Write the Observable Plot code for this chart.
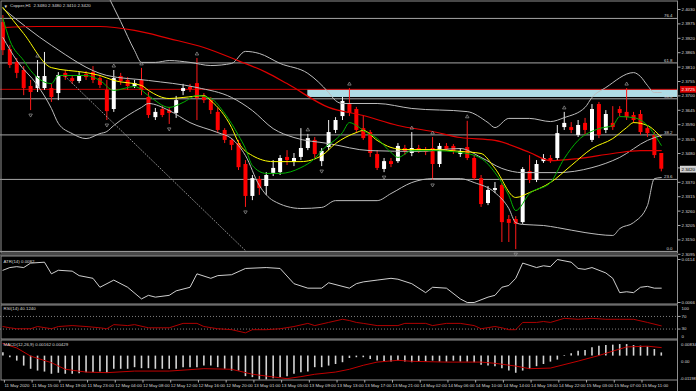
<!DOCTYPE html>
<html><head><meta charset="utf-8">
<script src="https://cdn.jsdelivr.net/npm/d3@7"></script>
<script src="https://cdn.jsdelivr.net/npm/@observablehq/plot@0.6"></script>
<style>
html,body{margin:0;padding:0;background:#000;}
#chart{width:696px;height:391px;position:relative;overflow:hidden;background:#000}
#chart svg{display:block}
</style></head><body><div id="chart"></div>
<script>
// ---------- DATA ----------
const title = "Copper,H1  2.3480 2.3480 2.3410 2.3420";
const open = [2.3980,2.3877,2.3828,2.3797,2.3736,2.3728,2.3728,2.3728,2.3709,2.3786,
2.3766,2.3755,2.3782,2.3789,2.3766,2.3721,2.3648,2.3774,2.3759,2.3736,
2.3759,2.3694,2.3617,2.3648,2.3644,2.3633,2.3717,2.3732,2.3747,2.3698,
2.3682,2.3637,2.3568,2.3530,2.3518,2.3438,2.3316,2.3381,2.3354,2.3404,
2.3407,2.3465,2.3446,2.3465,2.3499,2.3530,2.3449,2.3503,2.3568,2.3621,
2.3667,2.3648,2.3575,2.3560,2.3476,2.3419,2.3449,2.3449,2.3499,2.3480,
2.3499,2.3491,2.3499,2.3438,2.3507,2.3507,2.3476,2.3503,2.3461,2.3384,
2.3289,2.3339,2.3358,2.3228,2.3228,2.3216,2.3411,2.3377,2.3449,2.3461,
2.3461,2.3579,2.3579,2.3549,2.3595,2.3530,2.3667,2.3568,2.3595,2.3648,
2.3637,2.3625,2.3629,2.3575,2.3549,2.3480];
const high = [2.4007,2.3893,2.3843,2.3812,2.3759,2.3835,2.3866,2.3744,2.3789,2.3797,
2.3778,2.3789,2.3793,2.3812,2.3778,2.3759,2.3797,2.3786,2.3770,2.3759,
2.3805,2.3713,2.3652,2.3663,2.3656,2.3698,2.3744,2.3744,2.3843,2.3709,
2.3694,2.3652,2.3575,2.3537,2.3530,2.3453,2.3396,2.3392,2.3407,2.3453,
2.3472,2.3491,2.3480,2.3575,2.3553,2.3541,2.3499,2.3606,2.3617,2.3694,
2.3728,2.3656,2.3625,2.3568,2.3491,2.3461,2.3461,2.3518,2.3511,2.3560,
2.3511,2.3503,2.3541,2.3518,2.3518,2.3514,2.3499,2.3603,2.3472,2.3396,
2.3354,2.3369,2.3365,2.3243,2.3239,2.3426,2.3472,2.3453,2.3476,2.3472,
2.3587,2.3637,2.3598,2.3606,2.3614,2.3667,2.3675,2.3644,2.3659,2.3659,
2.3728,2.3637,2.3644,2.3587,2.3560,2.3480];
const low = [2.3854,2.3805,2.3766,2.3701,2.3644,2.3713,2.3721,2.3675,2.3682,2.3759,
2.3744,2.3747,2.3759,2.3747,2.3728,2.3606,2.3637,2.3740,2.3721,2.3728,
2.3701,2.3614,2.3606,2.3617,2.3591,2.3614,2.3701,2.3713,2.3606,2.3671,
2.3629,2.3556,2.3518,2.3491,2.3415,2.3274,2.3300,2.3320,2.3320,2.3392,
2.3396,2.3434,2.3430,2.3453,2.3491,2.3461,2.3430,2.3491,2.3556,2.3606,
2.3621,2.3556,2.3530,2.3465,2.3415,2.3407,2.3426,2.3442,2.3472,2.3468,
2.3480,2.3472,2.3377,2.3426,2.3488,2.3476,2.3465,2.3453,2.3377,2.3274,
2.3281,2.3327,2.3140,2.3140,2.3113,2.3209,2.3365,2.3369,2.3442,2.3442,
2.3453,2.3568,2.3556,2.3541,2.3549,2.3522,2.3537,2.3556,2.3568,2.3621,
2.3606,2.3595,2.3549,2.3541,2.3461,2.3410];
const close = [2.3873,2.3816,2.3786,2.3728,2.3713,2.3774,2.3774,2.3694,2.3778,2.3770,
2.3755,2.3778,2.3770,2.3759,2.3740,2.3640,2.3766,2.3755,2.3736,2.3747,
2.3721,2.3625,2.3637,2.3625,2.3633,2.3682,2.3728,2.3724,2.3690,2.3682,
2.3644,2.3568,2.3530,2.3511,2.3426,2.3316,2.3384,2.3346,2.3396,2.3423,
2.3461,2.3453,2.3461,2.3499,2.3537,2.3476,2.3488,2.3560,2.3606,2.3679,
2.3633,2.3568,2.3537,2.3480,2.3423,2.3449,2.3438,2.3507,2.3488,2.3499,
2.3488,2.3484,2.3438,2.3507,2.3495,2.3488,2.3488,2.3461,2.3384,2.3285,
2.3339,2.3346,2.3216,2.3213,2.3209,2.3419,2.3377,2.3438,2.3461,2.3449,
2.3556,2.3595,2.3568,2.3587,2.3568,2.3648,2.3549,2.3629,2.3579,2.3633,
2.3617,2.3606,2.3560,2.3556,2.3472,2.3420];

// Bollinger bands [bar, price]
const upperBand = [[13,2.4202],[15,2.4091],[17,2.3984],[19,2.3873],[20,2.3828],[22,2.3828],[24,2.3835],[27,2.3828],[30,2.3816],[33,2.3824],[35,2.3870],[37,2.3862],[40,2.3824],[44,2.3786],[47,2.3713],[48,2.3682],[49,2.3671],[54,2.3671],[59,2.3652],[67,2.3640],[70,2.3598],[71,2.3579],[73,2.3614],[76,2.3614],[79,2.3602],[81,2.3617],[84,2.3656],[85,2.3694],[87,2.3732],[91,2.3789],[92,2.3774],[93,2.3740],[94,2.3713],[95,2.3713]];
const middleBand = [[0,2.4034],[7,2.3893],[15,2.3778],[21,2.3759],[28,2.3732],[33,2.3694],[36,2.3644],[39,2.3575],[42,2.3541],[47,2.3518],[53,2.3491],[60,2.3488],[66,2.3499],[69,2.3465],[72,2.3423],[75,2.3407],[80,2.3407],[85,2.3426],[89,2.3465],[93,2.3530],[95,2.3549]];
const lowerBand = [[0,2.3923],[2,2.3835],[5,2.3740],[7,2.3652],[8,2.3595],[10,2.3556],[12,2.3537],[14,2.3556],[15,2.3564],[16,2.3587],[18,2.3625],[20,2.3656],[21,2.3671],[24,2.3644],[27,2.3598],[31,2.3560],[33,2.3537],[35,2.3472],[37,2.3358],[39,2.3300],[43,2.3270],[46,2.3274],[48,2.3300],[54,2.3300],[56,2.3327],[59,2.3369],[62,2.3384],[66,2.3384],[68,2.3369],[71,2.3331],[73,2.3270],[74,2.3216],[75,2.3209],[78,2.3205],[80,2.3197],[84,2.3178],[88,2.3167],[89,2.3193],[91,2.3216],[93,2.3281],[94,2.3384],[95,2.3388]];
// Moving averages [bar, price]
const slowMA = [[0,2.3961],[5,2.3965],[14,2.3965],[19,2.3950],[24,2.3919],[29,2.3885],[34,2.3834],[38,2.3790],[41,2.3747],[47,2.3656],[52,2.3625],[57,2.3587],[62,2.3564],[66,2.3541],[71,2.3530],[76,2.3484],[79,2.3453],[83,2.3461],[88,2.3480],[92,2.3491],[95,2.3491]];
const yellowMA = [[0,2.4038],[3,2.3938],[7,2.3808],[12,2.3789],[14,2.3778],[16,2.3759],[20,2.3740],[21,2.3721],[24,2.3690],[26,2.3694],[29,2.3701],[30,2.3682],[33,2.3579],[34,2.3522],[36,2.3472],[39,2.3449],[43,2.3449],[46,2.3472],[48,2.3518],[51,2.3560],[52,2.3568],[54,2.3530],[56,2.3503],[58,2.3495],[62,2.3495],[66,2.3488],[69,2.3480],[71,2.3423],[74,2.3312],[76,2.3331],[79,2.3369],[82,2.3434],[85,2.3499],[88,2.3537],[90,2.3579],[91,2.3598],[93,2.3587],[95,2.3541]];
const greenMA = [[0,2.3996],[1,2.3912],[3,2.3835],[4,2.3797],[7,2.3747],[8,2.3778],[12,2.3778],[14,2.3759],[16,2.3721],[19,2.3736],[21,2.3701],[24,2.3656],[26,2.3675],[28,2.3701],[30,2.3690],[32,2.3633],[34,2.3549],[35,2.3499],[36,2.3434],[38,2.3404],[40,2.3404],[43,2.3426],[45,2.3461],[46,2.3491],[49,2.3560],[50,2.3598],[51,2.3587],[52,2.3568],[54,2.3537],[56,2.3484],[57,2.3465],[59,2.3491],[62,2.3491],[66,2.3484],[69,2.3461],[71,2.3407],[73,2.3320],[74,2.3262],[76,2.3327],[79,2.3369],[81,2.3461],[83,2.3530],[86,2.3575],[88,2.3587],[89,2.3621],[91,2.3617],[93,2.3587],[95,2.3511]];
// Fractals (bar indices)
const upFractals = [5,16,20,28,44,50,59,62,67,81,90];
const downFractals = [4,15,24,35,46,55,62,74];
// Objects
const trendLine = [[9,2.3774],[35,2.3109]];
const fibLabels = ["0.0","23.6","38.2","50.0","61.8","76.4"];
const fibPrices = [2.3106,2.3381,2.3551,2.3689,2.3826,2.3996];
const redLevel = 2.3725;
const bidPrice = 2.3420;
const zone = {start: 44, end: 140, lo: 2.3694, hi: 2.3724};
const priceTicks = [2.4030,2.3975,2.3920,2.3865,2.3810,2.3755,2.3700,2.3645,2.3590,2.3535,2.3480,2.3425,2.3370,2.3315,2.3260,2.3205,2.3150,2.3095];
// ATR
const atrLabel = "ATR(14) 0.0082";
const atrTicks = [0.0114, 0.0066];
const atr = [[0,0.0102],[1,0.0105],[2,0.0106],[3,0.0105],[4,0.0110],[6,0.0111],[7,0.0098],[8,0.0102],[10,0.0101],[11,0.0096],[13,0.0093],[14,0.0083],[16,0.0091],[18,0.0083],[20,0.0070],[21,0.0074],[22,0.0072],[24,0.0074],[25,0.0079],[27,0.0083],[28,0.0098],[30,0.0093],[31,0.0096],[33,0.0097],[35,0.0104],[38,0.0105],[40,0.0104],[42,0.0087],[44,0.0082],[46,0.0082],[47,0.0088],[50,0.0082],[51,0.0087],[52,0.0089],[54,0.0091],[56,0.0093],[57,0.0092],[59,0.0087],[61,0.0077],[62,0.0083],[64,0.0082],[66,0.0070],[67,0.0066],[68,0.0066],[70,0.0072],[71,0.0074],[72,0.0083],[73,0.0085],[74,0.0093],[75,0.0110],[77,0.0105],[78,0.0107],[79,0.0106],[80,0.0114],[82,0.0111],[83,0.0104],[84,0.0103],[85,0.0105],[87,0.0099],[88,0.0093],[89,0.0077],[90,0.0078],[91,0.0077],[92,0.0083],[93,0.0084],[94,0.0082],[95,0.0082]];
// RSI
const rsiLabel = "RSI(14) 40.1240";
const rsiTicks = [100, 70, 30, 0];
const rsiLevels = [70, 30];
const rsi = [[0,38],[1,34],[2,31],[4,31],[5,38],[7,31],[8,38],[10,41],[12,38],[14,34],[15,31],[16,44],[18,41],[19,44],[21,34],[23,34],[24,34],[26,48],[28,48],[29,38],[31,31],[33,28],[35,18],[36,28],[38,28],[40,31],[42,38],[44,48],[45,41],[47,51],[49,61],[50,57],[51,51],[52,48],[54,41],[57,41],[58,48],[61,48],[62,41],[64,48],[66,48],[68,41],[69,31],[71,38],[72,34],[73,28],[74,28],[75,51],[77,51],[78,54],[79,51],[81,64],[83,61],[85,64],[87,61],[89,61],[91,61],[93,51],[95,40.1]];
// MACD
const macdLabel = "MACD(12,26,9) 0.00162 0.00429";
const macdTicksTop = [0.00834, 0];
const macdTicksBottom = [-0.01198];
const macdMain = [0.0017,-0.0008,-0.0025,-0.0050,-0.0066,-0.0075,-0.0080,-0.0091,-0.0086,-0.0091,
-0.0091,-0.0088,-0.0083,-0.0083,-0.0080,-0.0086,-0.0066,-0.0066,-0.0066,-0.0058,
-0.0063,-0.0063,-0.0066,-0.0066,-0.0066,-0.0066,-0.0058,-0.0058,-0.0058,-0.0050,
-0.0050,-0.0058,-0.0066,-0.0075,-0.0075,-0.0103,-0.0108,-0.0120,-0.0120,-0.0113,
-0.0108,-0.0103,-0.0091,-0.0083,-0.0080,-0.0058,-0.0058,-0.0050,-0.0042,-0.0033,
-0.0012,-0.0008,-0.0008,-0.0017,-0.0025,-0.0030,-0.0030,-0.0025,-0.0030,-0.0033,
-0.0030,-0.0030,-0.0025,-0.0030,-0.0030,-0.0025,-0.0030,-0.0030,-0.0033,-0.0046,
-0.0050,-0.0053,-0.0063,-0.0075,-0.0086,-0.0075,-0.0066,-0.0053,-0.0042,-0.0030,
-0.0020,0.0003,0.0012,0.0025,0.0028,0.0042,0.0050,0.0053,0.0055,0.0058,
0.0058,0.0053,0.0050,0.0046,0.0033,0.0016];
const macdSignal = [[0,0.0063],[2,0.0041],[4,0],[7,-0.0033],[9,-0.0066],[12,-0.0080],[15,-0.0083],[19,-0.0075],[24,-0.0075],[29,-0.0063],[33,-0.0066],[36,-0.0091],[38,-0.0100],[41,-0.0113],[43,-0.0103],[45,-0.0091],[48,-0.0080],[50,-0.0066],[52,-0.0046],[54,-0.0030],[57,-0.0021],[59,-0.0026],[64,-0.0030],[69,-0.0030],[71,-0.0036],[74,-0.0050],[76,-0.0063],[79,-0.0060],[83,-0.0025],[86,0.0003],[88,0.0025],[90,0.0046],[93,0.0050],[95,0.00429]];
// Time axis
const timeTickBars = [0,4,8,12,16,20,24,28,32,36,40,44,48,52,56,60,64,68,72,76,80,84,88,92];
const timeLabels = ["11 May 2020","11 May 15:00","11 May 19:00","11 May 23:00","12 May 04:00","12 May 08:00","12 May 12:00","12 May 16:00","12 May 20:00","13 May 01:00","13 May 05:00","13 May 09:00","13 May 13:00","13 May 17:00","13 May 21:00","14 May 02:00","14 May 06:00","14 May 10:00","14 May 14:00","14 May 18:00","14 May 22:00","15 May 03:00","15 May 07:00","15 May 11:00"];

// ---------- LAYOUT / STYLE ----------
const W = 696, AX = 677;
const xs = {domain: [-0.346, 97.34], range: [0, AX], axis: null};
const font = "'Liberation Sans', 'DejaVu Sans', Arial, sans-serif";
const FS = 4.4;
const style = {background: "transparent", color: "#d8d8d8", fontFamily: font, fontSize: FS + "px", overflow: "visible"};
const frameCol = "#8f8f8f";
const txt = "#d8d8d8";
const candles = open.map((o, i) => ({i, o, h: high[i], l: low[i], c: close[i], up: close[i] >= open[i]}));
const fib = fibPrices.map((p, k) => ({p, label: fibLabels[k]}));
const px = d => d[0], py = d => d[1];
const fr = {stroke: "#9a9a9a", strokeWidth: 0.7, fill: "none"};

const main = Plot.plot({
  width: W, height: 255, marginLeft: 0, marginRight: W - AX, marginTop: 0, marginBottom: 0,
  x: xs, y: {domain: [2.30904, 2.40644], range: [255, 0], axis: null}, style,
  marks: [
    Plot.rect([zone], {x1: "start", x2: "end", y1: "lo", y2: "hi", fill: "#b0dde6", clip: true}),
    Plot.ruleY(fib, {y: "p", stroke: "#a6a6a6", strokeWidth: 1}),
    Plot.text(fib, {y: "p", text: "label", frameAnchor: "right", textAnchor: "end", dx: -5, dy: -2.6, fill: txt}),
    Plot.ruleY([redLevel], {stroke: "#c80000", strokeWidth: 1}),
    Plot.ruleX(candles, {x: "i", y1: "l", y2: "h", stroke: d => d.up ? "#f0f0f0" : "#ff1a1a", strokeWidth: 1}),
    Plot.ruleX(candles, {x: "i", y1: "o", y2: "c", stroke: d => d.up ? "#ffffff" : "#ff0000", strokeWidth: 4, strokeLinecap: "butt"}),
    Plot.line(upperBand, {x: px, y: py, stroke: "#bdbdbd", strokeWidth: 1, curve: "monotone-x", clip: true}),
    Plot.line(middleBand, {x: px, y: py, stroke: "#bdbdbd", strokeWidth: 1, curve: "monotone-x", clip: true}),
    Plot.line(lowerBand, {x: px, y: py, stroke: "#bdbdbd", strokeWidth: 1, curve: "monotone-x", clip: true}),
    Plot.line(slowMA, {x: px, y: py, stroke: "#e00000", strokeWidth: 1.2, curve: "monotone-x"}),
    Plot.line(yellowMA, {x: px, y: py, stroke: "#ffff00", strokeWidth: 1, curve: "monotone-x"}),
    Plot.line(greenMA, {x: px, y: py, stroke: "#00b400", strokeWidth: 1, curve: "monotone-x"}),
    Plot.line(trendLine, {x: px, y: py, stroke: "#b0b0b0", strokeWidth: 0.8, strokeDasharray: "1,2"}),
    Plot.dot(upFractals, {x: d => d, y: d => high[d], symbol: "triangle", r: 1.3, dy: -4.5, ...fr}),
    Plot.dot(downFractals, {x: d => d, y: d => low[d], symbol: "triangle", rotate: 180, r: 1.3, dy: 4.5, ...fr}),
    Plot.frame({stroke: frameCol, insetTop: 0.5, insetLeft: 0.5, insetBottom: 2.5}),
    Plot.frame({anchor: "bottom", stroke: frameCol, insetBottom: 0.5}),
    Plot.axisY({anchor: "right", ticks: priceTicks, tickFormat: d => d.toFixed(4), tickSize: 2.5, tickPadding: 1.5, stroke: "#aaa", fill: txt}),
    Plot.text([redLevel], {y: d => d, text: d => d.toFixed(4), frameAnchor: "right", textAnchor: "start", dx: 4, fill: "#ffffff", className: "tag-red"}),
    Plot.text([bidPrice], {y: d => d, text: d => d.toFixed(4), frameAnchor: "right", textAnchor: "start", dx: 4, fill: "#000000", className: "tag-bid"}),
    Plot.text(["\u25BE"], {frameAnchor: "top-left", dx: 4, dy: 5.5, lineAnchor: "middle", fill: "#e0e0e0", fontSize: 5}),
    Plot.text([title], {frameAnchor: "top-left", dx: 9.5, dy: 5.5, lineAnchor: "middle", textAnchor: "start", fill: txt})
  ]
});

const atrPlot = Plot.plot({
  width: W, height: 49, marginLeft: 0, marginRight: W - AX, marginTop: 0, marginBottom: 0,
  x: xs, y: {domain: [0.0066, 0.0114], range: [47, 4], axis: null}, style,
  marks: [
    Plot.line(atr, {x: px, y: py, stroke: "#e6e6e6", strokeWidth: 0.9}),
    Plot.frame({stroke: frameCol, insetTop: 0.5, insetLeft: 0.5, insetBottom: 0.5}),
    Plot.axisY({anchor: "right", ticks: atrTicks, tickFormat: d => d.toFixed(4), tickSize: 2.5, tickPadding: 1.5, stroke: "#aaa", fill: txt}),
    Plot.text([atrLabel], {frameAnchor: "top-left", dx: 3, dy: 6, lineAnchor: "middle", textAnchor: "start", fill: txt})
  ]
});

const rsiPlot = Plot.plot({
  width: W, height: 35, marginLeft: 0, marginRight: W - AX, marginTop: 0, marginBottom: 0,
  x: xs, y: {domain: [0, 100], range: [34, 2.5], axis: null}, style,
  marks: [
    Plot.ruleY(rsiLevels, {stroke: "#a0a0a0", strokeWidth: 0.8, strokeDasharray: "1,2"}),
    Plot.line(rsi, {x: px, y: py, stroke: "#b00000", strokeWidth: 1}),
    Plot.frame({stroke: frameCol, insetTop: 0.5, insetLeft: 0.5, insetBottom: 0.5}),
    Plot.axisY({anchor: "right", ticks: [70, 30], tickFormat: d => String(d), tickSize: 2.5, tickPadding: 1.5, stroke: "#aaa", fill: txt}),
    Plot.axisY({anchor: "right", ticks: [100], tickFormat: d => String(d), tickSize: 0, tickPadding: 4, dy: 1.5, fill: txt}),
    Plot.axisY({anchor: "right", ticks: [0], tickFormat: d => String(d), tickSize: 0, tickPadding: 4, dy: -2, fill: txt}),
    Plot.text([rsiLabel], {frameAnchor: "top-left", dx: 3, dy: 4, lineAnchor: "middle", textAnchor: "start", fill: txt})
  ]
});

const macdPlot = Plot.plot({
  width: W, height: 52, marginLeft: 0, marginRight: W - AX, marginTop: 0, marginBottom: 11,
  x: xs, y: {domain: [-0.01198, 0.00834], range: [40.5, 0], axis: null}, style,
  marks: [
    Plot.ruleX(macdMain, {x: (d, i) => i, y1: 0, y2: d => d, stroke: "#d4d4d4", strokeWidth: 1.6}),
    Plot.line(macdSignal, {x: px, y: py, stroke: "#c00000", strokeWidth: 1}),
    Plot.frame({stroke: frameCol, insetTop: 0.5, insetLeft: 0.5, insetBottom: 0.5}),
    Plot.frame({anchor: "right", stroke: frameCol, insetBottom: -11}),
    Plot.axisY({anchor: "right", ticks: macdTicksTop, tickFormat: d => d === 0 ? "0.00" : String(d), tickSize: 0, tickPadding: 3.5, dy: 5, fill: txt}),
    Plot.axisY({anchor: "right", ticks: macdTicksBottom, tickFormat: d => String(d), tickSize: 0, tickPadding: 2.5, dy: -1.5, fill: txt, fontSize: 4.1}),
    Plot.axisX({anchor: "bottom", ticks: timeTickBars, tickFormat: d => timeLabels[timeTickBars.indexOf(d)], tickSize: 2.5, tickPadding: 0.5, textAnchor: "start", dx: 1.5, stroke: "#aaa", fill: txt}),
    Plot.text([macdLabel], {frameAnchor: "top-left", dx: 3, dy: 5, lineAnchor: "middle", textAnchor: "start", fill: txt})
  ]
});

const root = document.getElementById("chart");
[main, atrPlot, rsiPlot, macdPlot].forEach(s => root.appendChild(s));

// boxed price tags on the axis
const NS = "http://www.w3.org/2000/svg";
for (const [cls, bg, border] of [["tag-red", "#e00000", "#e00000"], ["tag-bid", "#c8c8c8", "#ffffff"]]) {
  main.querySelectorAll(`g.${cls} text`).forEach(t => {
    const b = t.getBBox();
    const r = document.createElementNS(NS, "rect");
    r.setAttribute("x", b.x - 1.2); r.setAttribute("y", b.y - 0.5);
    r.setAttribute("width", b.width + 2.4); r.setAttribute("height", b.height + 1);
    r.setAttribute("fill", bg); r.setAttribute("stroke", border); r.setAttribute("stroke-width", 0.6);
    const tr = t.getAttribute("transform"); if (tr) r.setAttribute("transform", tr);
    t.parentNode.insertBefore(r, t);
  });
}
</script>
</body></html>
